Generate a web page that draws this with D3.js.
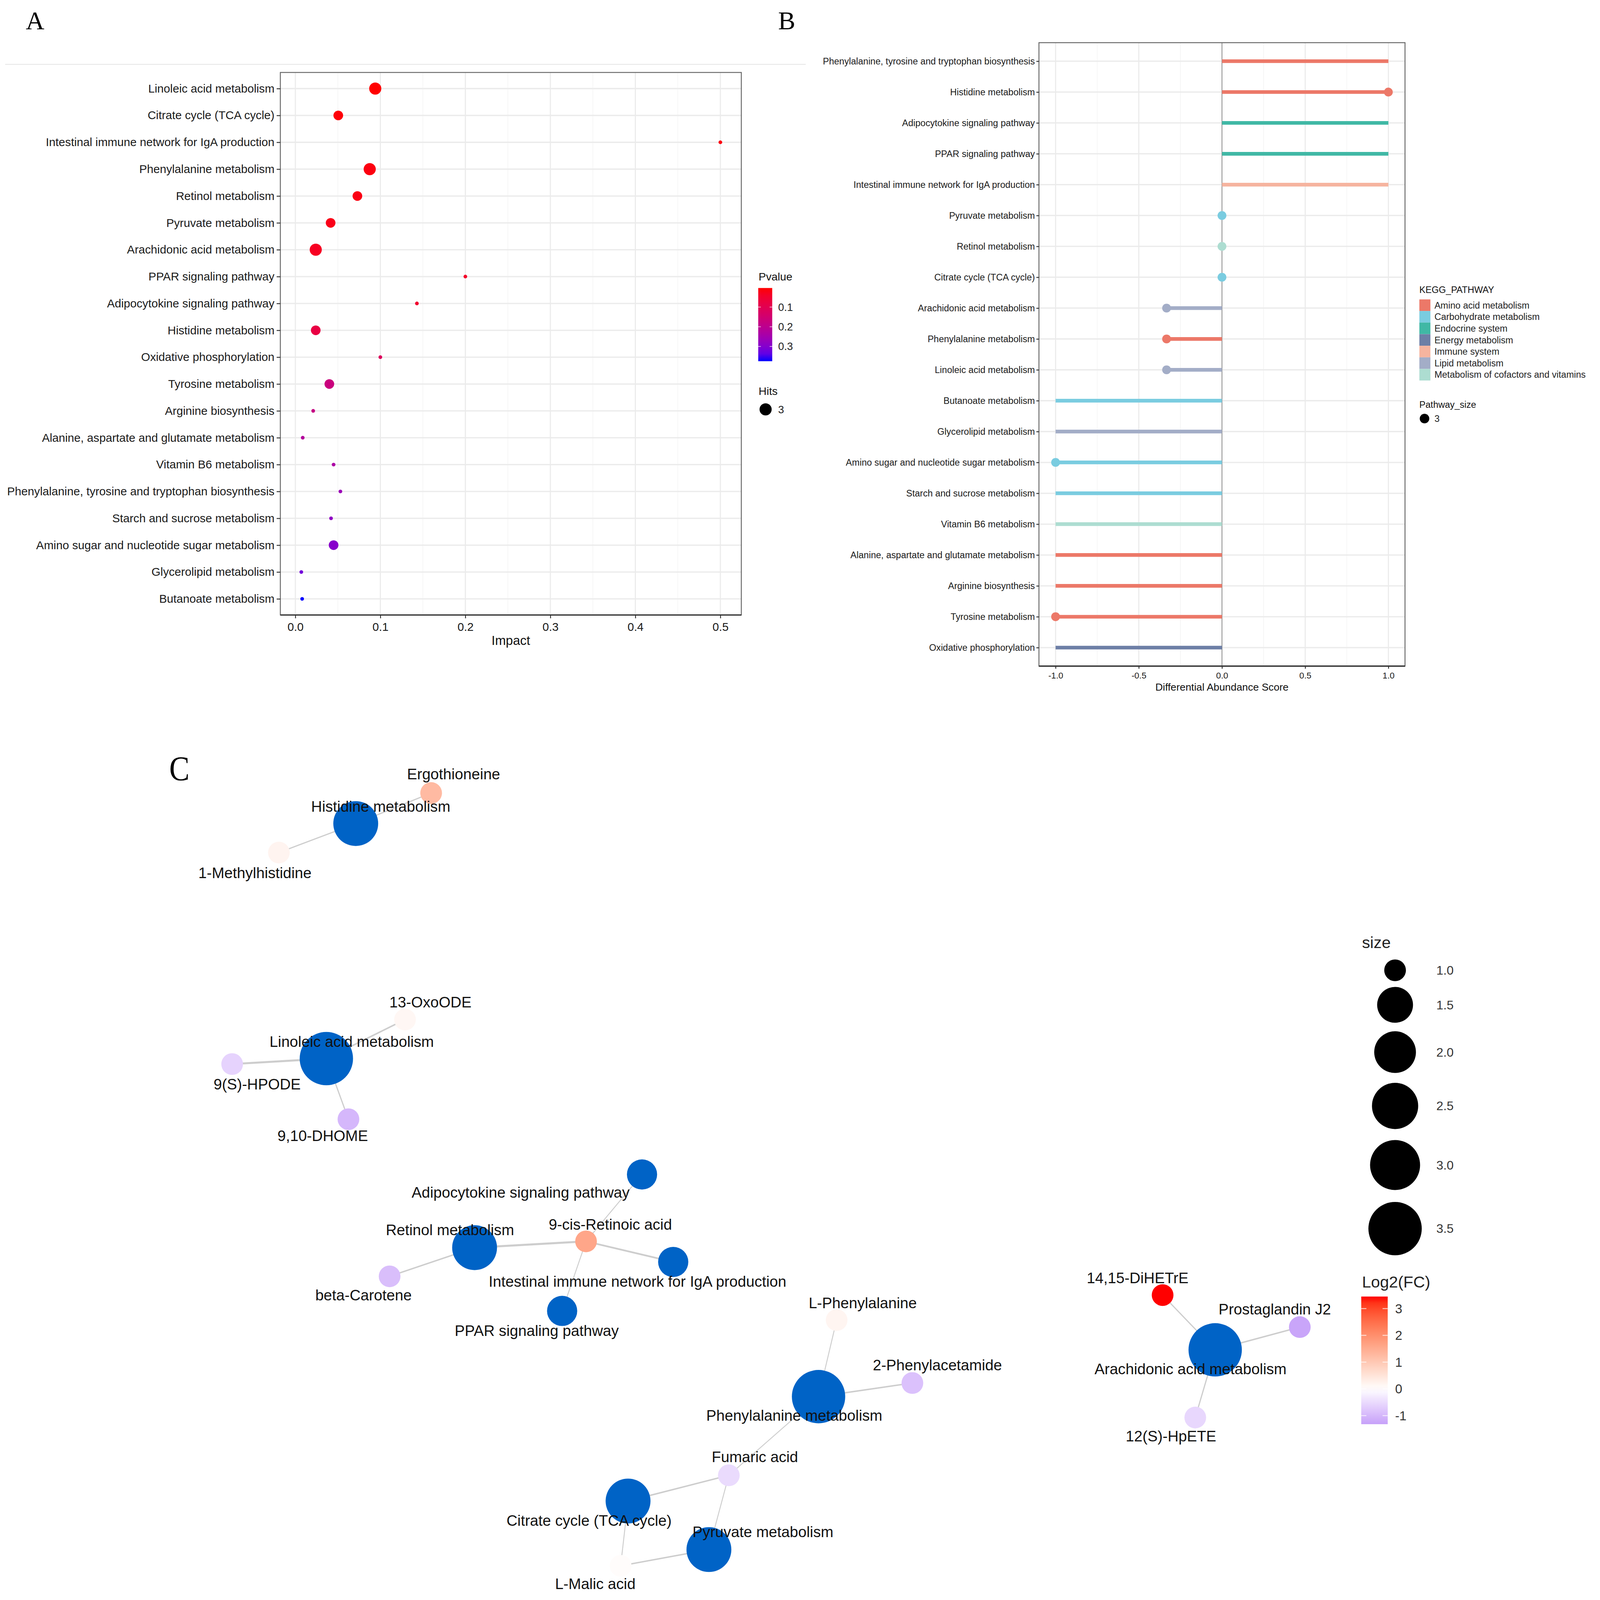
<!DOCTYPE html>
<html>
<head>
<meta charset="utf-8">
<script src="https://cdn.jsdelivr.net/npm/d3@7"></script>
<style>
  html, body { margin: 0; padding: 0; background: #fff; overflow: hidden; }
  #chart svg { display: block; width: 100vw; height: 100vh; }
</style>
</head>
<body>
<div id="chart"></div>
<script>
// ---------- panel A : pathway impact ----------
const pathwaysA = ["Linoleic acid metabolism", "Citrate cycle (TCA cycle)", "Intestinal immune network for IgA production",
  "Phenylalanine metabolism", "Retinol metabolism", "Pyruvate metabolism", "Arachidonic acid metabolism",
  "PPAR signaling pathway", "Adipocytokine signaling pathway", "Histidine metabolism", "Oxidative phosphorylation",
  "Tyrosine metabolism", "Arginine biosynthesis", "Alanine, aspartate and glutamate metabolism", "Vitamin B6 metabolism",
  "Phenylalanine, tyrosine and tryptophan biosynthesis", "Starch and sucrose metabolism",
  "Amino sugar and nucleotide sugar metabolism", "Glycerolipid metabolism", "Butanoate metabolism"];
const impactA = [0.094, 0.0505, 0.5, 0.0875, 0.073, 0.0415, 0.024, 0.2, 0.143, 0.024, 0.1,
  0.04, 0.021, 0.0087, 0.045, 0.053, 0.042, 0.045, 0.007, 0.008];
const pvalueA = [0.003, 0.008, 0.012, 0.013, 0.016, 0.02, 0.03, 0.04, 0.046, 0.077, 0.115,
  0.17, 0.18, 0.22, 0.235, 0.265, 0.285, 0.295, 0.32, 0.375];
const hitsA = [3, 2, 1, 3, 2, 2, 3, 1, 1, 2, 1, 2, 1, 1, 1, 1, 1, 2, 1, 1];
const pvalueTicks = [0.1, 0.2, 0.3];
const hitsLegend = [3];

// ---------- panel B : differential abundance ----------
const pathwaysB = ["Phenylalanine, tyrosine and tryptophan biosynthesis", "Histidine metabolism",
  "Adipocytokine signaling pathway", "PPAR signaling pathway", "Intestinal immune network for IgA production",
  "Pyruvate metabolism", "Retinol metabolism", "Citrate cycle (TCA cycle)", "Arachidonic acid metabolism",
  "Phenylalanine metabolism", "Linoleic acid metabolism", "Butanoate metabolism", "Glycerolipid metabolism",
  "Amino sugar and nucleotide sugar metabolism", "Starch and sucrose metabolism", "Vitamin B6 metabolism",
  "Alanine, aspartate and glutamate metabolism", "Arginine biosynthesis", "Tyrosine metabolism",
  "Oxidative phosphorylation"];
const scoreB = [1, 1, 1, 1, 1, 0, 0, 0, -0.333, -0.333, -0.333, -1, -1, -1, -1, -1, -1, -1, -1, -1];
const classB = ["Amino acid metabolism", "Amino acid metabolism", "Endocrine system", "Endocrine system",
  "Immune system", "Carbohydrate metabolism", "Metabolism of cofactors and vitamins", "Carbohydrate metabolism",
  "Lipid metabolism", "Amino acid metabolism", "Lipid metabolism", "Carbohydrate metabolism", "Lipid metabolism",
  "Carbohydrate metabolism", "Carbohydrate metabolism", "Metabolism of cofactors and vitamins",
  "Amino acid metabolism", "Amino acid metabolism", "Amino acid metabolism", "Energy metabolism"];
const pathwaySizeB = [null, 3, null, null, null, 3, 3, 3, 3, 3, 3, null, null, 3, null, null, null, null, 3, null];
const keggClasses = ["Amino acid metabolism", "Carbohydrate metabolism", "Endocrine system", "Energy metabolism",
  "Immune system", "Lipid metabolism", "Metabolism of cofactors and vitamins"];
const keggBase = ["#E64B35", "#4DBBD5", "#00A087", "#3C5488", "#F39B7F", "#8491B4", "#91D1C2"];
const scoreTicks = [-1, -0.5, 0, 0.5, 1];

// ---------- panel C : pathway / metabolite network ----------
const nodeNames = ["Histidine metabolism", "Ergothioneine", "1-Methylhistidine",
  "Linoleic acid metabolism", "13-OxoODE", "9(S)-HPODE", "9,10-DHOME",
  "Retinol metabolism", "9-cis-Retinoic acid", "Adipocytokine signaling pathway",
  "Intestinal immune network for IgA production", "PPAR signaling pathway", "beta-Carotene",
  "Phenylalanine metabolism", "L-Phenylalanine", "2-Phenylacetamide", "Fumaric acid",
  "Citrate cycle (TCA cycle)", "Pyruvate metabolism", "L-Malic acid",
  "Arachidonic acid metabolism", "14,15-DiHETrE", "Prostaglandin J2", "12(S)-HpETE"];
const nodeIsPathway = [true, false, false, true, false, false, false, true, false, true, true, true, false,
  true, false, false, false, true, true, false, true, false, false, false];
const nodeSize = [2.34, 1, 1, 3.5, 1, 1, 1, 2.34, 1, 1.18, 1.18, 1.18, 1, 3.5, 1, 1, 1, 2.34, 2.34, 1, 3.5, 1, 1, 1];
const nodeFC = [null, 1.25, 0.2, null, 0.15, -0.6, -1.0, null, 1.6, null, null, null, -0.9,
  null, 0.18, -0.85, -0.5, null, null, 0.05, null, 3.45, -1.25, -0.55];
// layout coordinates (0-100 layout space)
const layoutX = [17.18, 23.39, 10.85, 14.76, 21.24, 7.0, 16.58, 26.97, 36.15, 40.76, 43.33, 34.18, 19.97,
  55.3, 56.79, 63.03, 47.91, 39.61, 46.27, 39.0, 87.97, 83.64, 94.94, 86.33];
const layoutY = [8.22, 4.61, 11.65, 36.0, 31.39, 36.65, 43.17, 58.35, 57.61, 49.7, 60.04, 65.83, 61.74,
  75.96, 66.91, 74.35, 85.26, 88.3, 94.04, 95.96, 70.43, 63.96, 67.74, 78.43];
const labelDX = [2.06, 1.85, -1.97, 2.09, 2.09, 2.06, -2.12, -2.03, 2.0, -10.0, -2.94, -2.09, -2.15,
  -2.0, 2.15, 2.06, 2.15, -3.21, 4.45, -2.09, -2.03, -2.06, -2.06, -2.0];
const labelDY = [-2.04, -2.26, 2.39, -2.0, -2.04, 2.39, 1.96, -2.09, -2.0, 2.13, 2.3, 2.35, 2.22,
  2.22, -2.04, -2.13, -2.17, 2.3, -2.09, 2.13, 2.26, -2.04, -2.13, 2.22];
const edgeFrom = [0, 0, 3, 3, 3, 7, 7, 8, 8, 8, 13, 13, 13, 16, 16, 17, 18, 20, 20, 20];
const edgeTo = [1, 2, 4, 5, 6, 8, 12, 9, 10, 11, 14, 15, 16, 17, 18, 19, 19, 21, 22, 23];
const edgeWeight = [1.5, 1.5, 2, 3, 1.5, 3, 2, 1, 2.5, 1, 1, 2, 1, 2, 1, 1, 2, 1.5, 2, 1.5];
const sizeLegend = [1.0, 1.5, 2.0, 2.5, 3.0, 3.5];
const fcTicks = [3, 2, 1, 0, -1];

const W = 4349, H = 4350;
const FONT = "'Liberation Sans', Arial, Helvetica, sans-serif";
const SERIF = "'Liberation Serif', 'Times New Roman', serif";

const svg = d3.select("#chart").append("svg")
  .attr("viewBox", `0 0 ${W} ${H}`)
  .attr("preserveAspectRatio", "none")
  .attr("font-family", FONT);
svg.append("rect").attr("width", W).attr("height", H).attr("fill", "#fff");
const defs = svg.append("defs");

// panel letters + top rule
svg.append("line").attr("x1", 14).attr("x2", 2190).attr("y1", 175).attr("y2", 175)
  .attr("stroke", "#e4e4e4").attr("stroke-width", 2);
svg.append("text").attr("x", 70).attr("y", 80).attr("font-family", SERIF).attr("font-size", 70).text("A");
svg.append("text").attr("x", 2115).attr("y", 80).attr("font-family", SERIF).attr("font-size", 70).text("B");
svg.append("text").attr("transform", "translate(460,2121) scale(0.87,1)")
  .attr("font-family", SERIF).attr("font-size", 95).text("C");

function gridAndRows(g, x, y, L, R, T, B, major, minor, cats) {
  g.append("g").selectAll("line").data(minor).join("line")
    .attr("x1", d => x(d)).attr("x2", d => x(d)).attr("y1", T).attr("y2", B)
    .attr("stroke", "#f3f3f3").attr("stroke-width", 1.5);
  g.append("g").selectAll("line").data(major).join("line")
    .attr("x1", d => x(d)).attr("x2", d => x(d)).attr("y1", T).attr("y2", B)
    .attr("stroke", "#ebebeb").attr("stroke-width", 3);
  g.append("g").selectAll("line").data(cats).join("line")
    .attr("x1", L).attr("x2", R).attr("y1", d => y(d)).attr("y2", d => y(d))
    .attr("stroke", "#ebebeb").attr("stroke-width", 3.5);
}

function frame(g, L, R, T, B) {
  g.append("rect").attr("x", L).attr("y", T).attr("width", R - L).attr("height", B - T)
    .attr("fill", "none").attr("stroke", "#666").attr("stroke-width", 2.5);
  g.append("line").attr("x1", L).attr("x2", R).attr("y1", B).attr("y2", B)
    .attr("stroke", "#333").attr("stroke-width", 3.5);
}

function styleAxis(g, size) {
  g.attr("font-family", FONT).attr("font-size", size);
  g.select(".domain").remove();
  g.selectAll("line").attr("stroke", "#333").attr("stroke-width", 2.5);
  g.selectAll("text").attr("fill", "#1a1a1a");
}

// ================= panel A =================
const aL = 762, aR = 2015, aT = 197, aB = 1672;
const impExt = d3.extent(impactA), impPad = (impExt[1] - impExt[0]) * 0.05;
const xA = d3.scaleLinear().domain([impExt[0] - impPad, impExt[1] + impPad]).range([aL, aR]);
const yA = d3.scalePoint().domain(pathwaysA).range([aT, aB]).padding(0.6);
const colA = d3.scaleLinear().domain(d3.extent(pvalueA)).range(["#FF0000", "#0000FF"]).interpolate(d3.interpolateLab);
const rA = d3.scaleSqrt().domain([0, 2]).range([5, 16.5]);

const gA = svg.append("g");
const majorA = xA.ticks(6);
const minorA = d3.range(0.05, 0.5, 0.1);
gridAndRows(gA, xA, yA, aL, aR, aT, aB, majorA, minorA, pathwaysA);

const dataA = pathwaysA.map((p, i) => ({ name: p, impact: impactA[i], p: pvalueA[i], hits: hitsA[i] }));
gA.append("g").selectAll("circle").data(dataA).join("circle")
  .attr("cx", d => xA(d.impact)).attr("cy", d => yA(d.name))
  .attr("r", d => rA(d.hits - 1)).attr("fill", d => colA(d.p));

frame(gA, aL, aR, aT, aB);
gA.append("g").attr("transform", `translate(${aL},0)`)
  .call(d3.axisLeft(yA).tickSize(10).tickPadding(6))
  .call(g => styleAxis(g, 31.5));
gA.append("g").attr("transform", `translate(0,${aB})`)
  .call(d3.axisBottom(xA).tickValues(majorA).tickFormat(d => d.toFixed(1)).tickSize(9).tickPadding(12))
  .call(g => styleAxis(g, 31.5));
gA.append("text").attr("x", (aL + aR) / 2).attr("y", 1741).attr("dy", "0.35em")
  .attr("text-anchor", "middle").attr("font-size", 35).attr("fill", "#111").text("Impact");

// Pvalue legend
const pBarTop = 783, pBarBot = 982, pBarX = 2061, pBarW = 38;
const yPleg = d3.scaleLinear().domain(colA.domain()).range([pBarTop, pBarBot]);
const pGrad = defs.append("linearGradient").attr("id", "pgrad").attr("x1", 0).attr("y1", 0).attr("x2", 0).attr("y2", 1);
d3.range(0, 1.0001, 0.1).forEach(t => {
  pGrad.append("stop").attr("offset", t).attr("stop-color", colA(colA.domain()[0] + t * (colA.domain()[1] - colA.domain()[0])));
});
gA.append("text").attr("x", 2062).attr("y", 752).attr("dy", "0.35em").attr("font-size", 30).attr("fill", "#111").text("Pvalue");
gA.append("rect").attr("x", pBarX).attr("y", pBarTop).attr("width", pBarW).attr("height", pBarBot - pBarTop).attr("fill", "url(#pgrad)");
pvalueTicks.forEach(v => {
  const y = yPleg(v);
  [[pBarX, pBarX + 7], [pBarX + pBarW - 7, pBarX + pBarW]].forEach(s => {
    gA.append("line").attr("x1", s[0]).attr("x2", s[1]).attr("y1", y).attr("y2", y)
      .attr("stroke", "#fff").attr("stroke-opacity", 0.7).attr("stroke-width", 2);
  });
  gA.append("text").attr("x", 2115).attr("y", y).attr("dy", "0.35em").attr("font-size", 29).attr("fill", "#222").text(v);
});
gA.append("text").attr("x", 2062).attr("y", 1063).attr("dy", "0.35em").attr("font-size", 30).attr("fill", "#111").text("Hits");
hitsLegend.forEach(h => {
  gA.append("circle").attr("cx", 2081).attr("cy", 1113).attr("r", rA(h - 1)).attr("fill", "#000");
  gA.append("text").attr("x", 2115).attr("y", 1113).attr("dy", "0.35em").attr("font-size", 29).attr("fill", "#222").text(h);
});

// ================= panel B =================
const bL = 2824, bR = 3819, bT = 116, bB = 1811;
const xB = d3.scaleLinear().domain([-1.1, 1.1]).range([bL, bR]);
const yB = d3.scalePoint().domain(pathwaysB).range([bT, bB]).padding(0.6);
const keggColor = d3.scaleOrdinal().domain(keggClasses)
  .range(keggBase.map(c => d3.interpolateRgb("#ffffff", c)(0.75)));

const gB = svg.append("g");
gridAndRows(gB, xB, yB, bL, bR, bT, bB, scoreTicks, [-0.75, -0.25, 0.25, 0.75], pathwaysB);
gB.append("line").attr("x1", xB(0)).attr("x2", xB(0)).attr("y1", bT).attr("y2", bB)
  .attr("stroke", "#8c8c8c").attr("stroke-width", 2);

const dataB = pathwaysB.map((p, i) => ({ name: p, score: scoreB[i], cls: classB[i], size: pathwaySizeB[i] }));
gB.append("g").selectAll("line").data(dataB).join("line")
  .attr("x1", xB(0)).attr("x2", d => xB(d.score))
  .attr("y1", d => yB(d.name)).attr("y2", d => yB(d.name))
  .attr("stroke", d => keggColor(d.cls)).attr("stroke-width", 10);
gB.append("g").selectAll("circle").data(dataB.filter(d => d.size != null)).join("circle")
  .attr("cx", d => xB(d.score)).attr("cy", d => yB(d.name))
  .attr("r", 12).attr("fill", d => keggColor(d.cls));

frame(gB, bL, bR, bT, bB);
gB.append("g").attr("transform", `translate(${bL},0)`)
  .call(d3.axisLeft(yB).tickSize(7).tickPadding(4))
  .call(g => styleAxis(g, 25));
gB.append("g").attr("transform", `translate(0,${bB})`)
  .call(d3.axisBottom(xB).tickValues(scoreTicks).tickFormat(d => d.toFixed(1)).tickSize(7).tickPadding(10))
  .call(g => styleAxis(g, 23.5));
gB.append("text").attr("x", (bL + bR) / 2).attr("y", 1868).attr("dy", "0.35em")
  .attr("text-anchor", "middle").attr("font-size", 28).attr("fill", "#111").text("Differential Abundance Score");

// KEGG legend
gB.append("text").attr("x", 3858).attr("y", 788).attr("dy", "0.35em").attr("font-size", 25).attr("fill", "#111").text("KEGG_PATHWAY");
const keyH = 31.5;
gB.append("g").selectAll("rect").data(keggClasses).join("rect")
  .attr("x", 3858).attr("y", (d, i) => 814 + i * keyH).attr("width", 30).attr("height", keyH)
  .attr("fill", d => keggColor(d));
gB.append("g").selectAll("text").data(keggClasses).join("text")
  .attr("x", 3899).attr("y", (d, i) => 814 + keyH / 2 + i * keyH).attr("dy", "0.35em")
  .attr("font-size", 25).attr("fill", "#222").text(d => d);
gB.append("text").attr("x", 3858).attr("y", 1100).attr("dy", "0.35em").attr("font-size", 25).attr("fill", "#111").text("Pathway_size");
gB.append("circle").attr("cx", 3872).attr("cy", 1138).attr("r", 13).attr("fill", "#000");
gB.append("text").attr("x", 3899).attr("y", 1138).attr("dy", "0.35em").attr("font-size", 25).attr("fill", "#222").text("3");

// ================= panel C =================
const xC = d3.scaleLinear().domain([0, 100]).range([400, 3700]);
const yC = d3.scaleLinear().domain([0, 100]).range([2050, 4350]);
const rC = d3.scaleSqrt().domain([0, 2.5]).range([29.5, 72.5]);
const fcExt = d3.extent(nodeFC.filter(v => v != null));
const colC = d3.scaleLinear().domain([fcExt[0] - 0.07, 0, fcExt[1]])
  .range(["#C6A0F9", "#FFFFFF", "#FF0000"]).interpolate(d3.interpolateLab);
const wC = d3.scaleLinear().domain([1, 3]).range([2.5, 5.5]);

const nodes = nodeNames.map((n, i) => ({
  name: n, pathway: nodeIsPathway[i], size: nodeSize[i], fc: nodeFC[i],
  x: xC(layoutX[i]), y: yC(layoutY[i]),
  lx: xC(layoutX[i] + labelDX[i]), ly: yC(layoutY[i] + labelDY[i])
}));
const edges = edgeFrom.map((s, i) => ({ s: nodes[s], t: nodes[edgeTo[i]], w: edgeWeight[i] }));

const gC = svg.append("g");
gC.append("g").selectAll("line").data(edges).join("line")
  .attr("x1", d => d.s.x).attr("y1", d => d.s.y).attr("x2", d => d.t.x).attr("y2", d => d.t.y)
  .attr("stroke", "#cdcdcd").attr("stroke-width", d => wC(d.w));
gC.append("g").selectAll("circle").data(nodes).join("circle")
  .attr("cx", d => d.x).attr("cy", d => d.y).attr("r", d => rC(d.size - 1))
  .attr("fill", d => d.pathway ? "#0063C6" : colC(d.fc));
gC.append("g").selectAll("text").data(nodes).join("text")
  .attr("x", d => d.lx).attr("y", d => d.ly).attr("dy", "0.35em")
  .attr("text-anchor", "middle").attr("font-size", 41).attr("fill", "#111").text(d => d.name);

// size legend
gC.append("text").attr("x", 3702).attr("y", 2562).attr("dy", "0.35em").attr("font-size", 44).attr("fill", "#222").text("size");
let ky = 2638;
sizeLegend.forEach((s, i) => {
  if (i > 0) ky += 1.268 * (rC(sizeLegend[i - 1] - 1) + rC(s - 1)) - 5.2;
  gC.append("circle").attr("cx", 3792).attr("cy", ky).attr("r", rC(s - 1)).attr("fill", "#000");
  gC.append("text").attr("x", 3904).attr("y", ky).attr("dy", "0.35em").attr("font-size", 34).attr("fill", "#333").text(s.toFixed(1));
});

// Log2(FC) legend
const fcTop = 3525, fcBot = 3872, fcX = 3700, fcW = 72;
const yFC = d3.scaleLinear().domain([colC.domain()[2], colC.domain()[0]]).range([fcTop, fcBot]);
const fcGrad = defs.append("linearGradient").attr("id", "fcgrad").attr("x1", 0).attr("y1", 0).attr("x2", 0).attr("y2", 1);
d3.range(0, 1.0001, 0.05).forEach(t => {
  fcGrad.append("stop").attr("offset", t).attr("stop-color", colC(yFC.invert(fcTop + t * (fcBot - fcTop))));
});
gC.append("text").attr("x", 3702).attr("y", 3485).attr("dy", "0.35em").attr("font-size", 44).attr("fill", "#222").text("Log2(FC)");
gC.append("rect").attr("x", fcX).attr("y", fcTop).attr("width", fcW).attr("height", fcBot - fcTop).attr("fill", "url(#fcgrad)");
fcTicks.forEach(v => {
  const y = yFC(v);
  [[fcX, fcX + 14], [fcX + fcW - 14, fcX + fcW]].forEach(s => {
    gC.append("line").attr("x1", s[0]).attr("x2", s[1]).attr("y1", y).attr("y2", y)
      .attr("stroke", "#fff").attr("stroke-opacity", 0.7).attr("stroke-width", 2.5);
  });
  gC.append("text").attr("x", 3792).attr("y", y).attr("dy", "0.35em").attr("font-size", 35).attr("fill", "#333")
    .text(v < 0 ? "-" + Math.abs(v) : v);
});
</script>
</body>
</html>
